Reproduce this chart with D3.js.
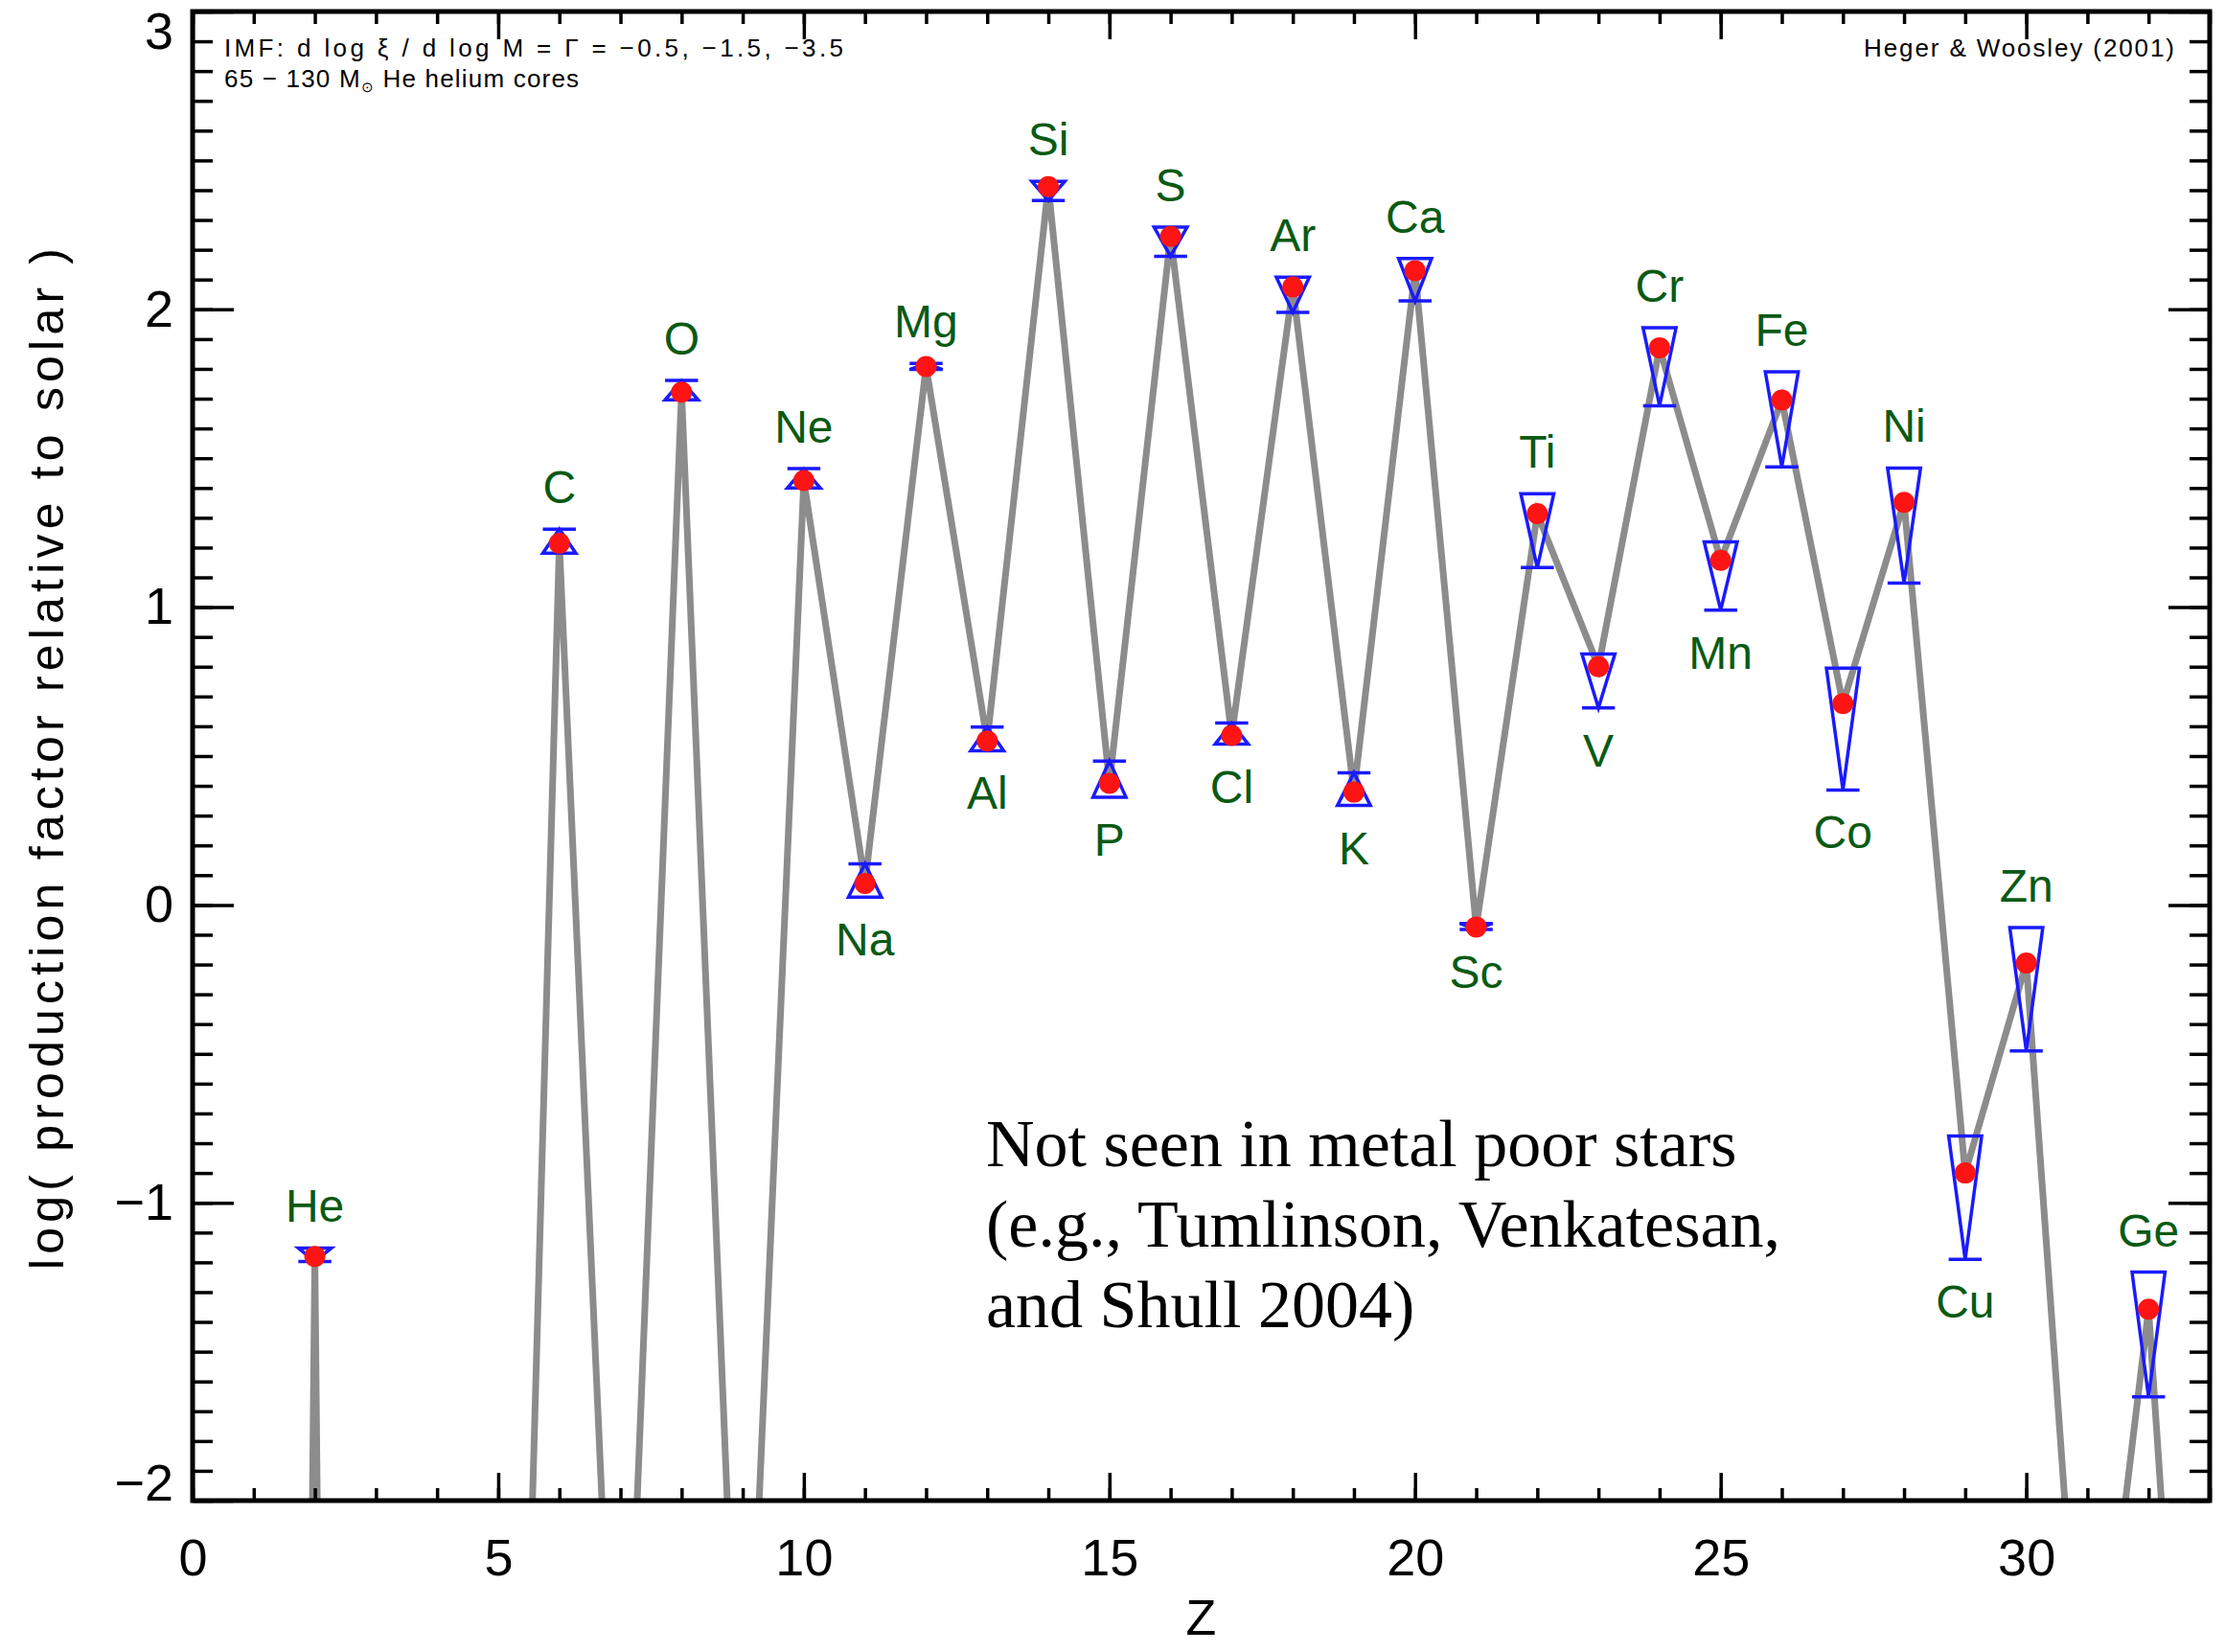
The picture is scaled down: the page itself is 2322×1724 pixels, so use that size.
<!DOCTYPE html>
<html>
<head>
<meta charset="utf-8">
<script src="https://cdn.jsdelivr.net/npm/d3@7"></script>
<style>
  body { margin: 0; background: #fff; }
</style>
</head>
<body>
<div id="chart"></div>
<script>
// elements with yields (Heger & Woosley 2001, 65-130 Msun He cores)
var elements = ["He","C","O","Ne","Na","Mg","Al","Si","P","S","Cl","Ar","K","Ca","Sc","Ti","V","Cr","Mn","Fe","Co","Ni","Cu","Zn","Ge"];
var elemZ    = [2, 6, 8, 10, 11, 12, 13, 14, 15, 16, 17, 18, 19, 20, 21, 22, 23, 24, 25, 26, 27, 28, 29, 30, 32];
var elemVal  = [-1.18, 1.214, 1.722, 1.425, 0.072, 1.808, 0.551, 2.412, 0.408, 2.245, 0.569, 2.075, 0.379, 2.13, -0.074, 1.314, 0.80, 1.871, 1.157, 1.695, 0.676, 1.352, -0.90, -0.195, -1.357];
var errHi    = [-1.152, 1.262, 1.761, 1.465, 0.138, 1.818, 0.597, 2.43, 0.483, 2.276, 0.611, 2.108, 0.444, 2.171, -0.062, 1.381, 0.843, 1.938, 1.219, 1.79, 0.795, 1.467, -0.776, -0.076, -1.233];
var errLo    = [-1.197, 1.181, 1.696, 1.40, 0.026, 1.798, 0.518, 2.365, 0.362, 2.178, 0.54, 1.99, 0.334, 2.028, -0.082, 1.133, 0.662, 1.676, 0.99, 1.471, 0.386, 1.081, -1.19, -0.49, -1.652];
// "v" = wide end on top, "^" = wide end at bottom
var errShape = ["v","^","^","^","^","^","^","v","^","v","^","v","^","v","v","v","v","v","v","v","v","v","v","v","v"];
// label above ("a") or below ("b") the marker
var labelSide = ["a","a","a","a","b","a","b","a","b","a","b","a","b","a","b","a","b","a","b","a","b","a","b","a","a"];

// Z with no data shown, far below the plot
var gapZ   = [1, 3, 4, 5, 7, 9, 31, 33];
var gapVal = [-22, -22, -20, -6.1, -3.4, -3.26, -3.06, -4.42];

var xTickVals = [0, 5, 10, 15, 20, 25, 30];
var xTickLabels = ["0", "5", "10", "15", "20", "25", "30"];
var yTickVals = [-2, -1, 0, 1, 2, 3];
var yTickLabels = ["\u22122", "\u22121", "0", "1", "2", "3"];

var w = 2322, h = 1724;
var pLeft = 201, pRight = 2306, pTop = 12, pBottom = 1566;

var svg = d3.select("#chart").append("svg")
    .attr("width", w)
    .attr("height", h)
    .style("background", "#fff");

var xScale = d3.scaleLinear().domain([0, 33]).range([pLeft, pRight]);
var yScale = d3.scaleLinear().domain([-2, 3]).range([pBottom, pTop]);

svg.append("defs").append("clipPath").attr("id", "plotClip")
    .append("rect")
    .attr("x", pLeft).attr("y", pTop)
    .attr("width", pRight - pLeft).attr("height", pBottom - pTop);

// gray line through every Z
var lineData = elemZ.map(function (z, i) { return [z, elemVal[i]]; })
    .concat(gapZ.map(function (z, i) { return [z, gapVal[i]]; }))
    .sort(function (a, b) { return a[0] - b[0]; });

var line = d3.line()
    .x(function (d) { return xScale(d[0]); })
    .y(function (d) { return yScale(d[1]); });

svg.append("path")
    .datum(lineData)
    .attr("clip-path", "url(#plotClip)")
    .attr("d", line)
    .attr("fill", "none")
    .attr("stroke", "#8c8c8c")
    .attr("stroke-width", 7)
    .attr("stroke-linejoin", "miter");

// blue range markers
var hw = 0.27;
svg.append("g").selectAll("path")
    .data(elemZ)
    .enter()
    .append("path")
    .attr("d", function (z, i) {
        var xl = xScale(z - hw), xr = xScale(z + hw), xc = xScale(z);
        var yh = yScale(errHi[i]), yl = yScale(errLo[i]);
        if (errShape[i] == "v") {
            return "M" + xl + "," + yh + "L" + xr + "," + yh + "L" + xc + "," + yl + "Z" +
                "M" + xl + "," + yl + "L" + xr + "," + yl;
        }
        return "M" + xl + "," + yl + "L" + xr + "," + yl + "L" + xc + "," + yh + "Z" +
            "M" + xl + "," + yh + "L" + xr + "," + yh;
    })
    .attr("fill", "none")
    .attr("stroke", "#1a1aff")
    .attr("stroke-width", 3.5);

// red dots
svg.append("g").selectAll("circle")
    .data(elemZ)
    .enter()
    .append("circle")
    .attr("cx", function (z) { return xScale(z); })
    .attr("cy", function (z, i) { return yScale(elemVal[i]); })
    .attr("r", 11)
    .attr("fill", "#ff1414");

// element names
svg.append("g").selectAll("text")
    .data(elements)
    .enter()
    .append("text")
    .text(function (d) { return d; })
    .attr("text-anchor", "middle")
    .attr("x", function (d, i) { return xScale(elemZ[i]); })
    .attr("y", function (d, i) {
        return labelSide[i] == "a" ? yScale(errHi[i]) - 27 : yScale(errLo[i]) + 61;
    })
    .attr("font-family", "Liberation Sans, Arial, sans-serif")
    .attr("font-size", "48px")
    .attr("fill", "#0a5a14");

// axes
function styleAxis(g, fs) {
    g.select(".domain").remove();
    g.selectAll(".tick line").attr("stroke", "#000").attr("stroke-width", 3.5);
    g.selectAll(".tick text")
        .attr("font-family", "Liberation Sans, Arial, sans-serif")
        .attr("font-size", fs + "px")
        .attr("fill", "#000");
}

var xMinor = d3.range(0, 34, 1);
var yMinor = d3.range(-20, 31).map(function (d) { return d / 10; });

svg.append("g").attr("transform", "translate(0," + pBottom + ")")
    .call(d3.axisBottom(xScale).tickValues(xMinor).tickSize(-13).tickFormat(""))
    .call(styleAxis, 54);
svg.append("g").attr("transform", "translate(0," + pBottom + ")")
    .call(d3.axisBottom(xScale).tickValues(xTickVals).tickSize(-29).tickPadding(40)
        .tickFormat(function (d, i) { return xTickLabels[i]; }))
    .call(styleAxis, 54);

svg.append("g").attr("transform", "translate(0," + pTop + ")")
    .call(d3.axisTop(xScale).tickValues(xMinor).tickSize(-13).tickFormat(""))
    .call(styleAxis, 54);
svg.append("g").attr("transform", "translate(0," + pTop + ")")
    .call(d3.axisTop(xScale).tickValues(xTickVals).tickSize(-29).tickFormat(""))
    .call(styleAxis, 54);

svg.append("g").attr("transform", "translate(" + pLeft + ",0)")
    .call(d3.axisLeft(yScale).tickValues(yMinor).tickSize(-21).tickFormat(""))
    .call(styleAxis, 54);
var yAxisG = svg.append("g").attr("transform", "translate(" + pLeft + ",0)")
    .call(d3.axisLeft(yScale).tickValues(yTickVals).tickSize(-43).tickPadding(20)
        .tickFormat(function (d, i) { return yTickLabels[i]; }))
    .call(styleAxis, 54);
// end labels sit inside the frame edges
yAxisG.selectAll(".tick text").attr("y", function (d) {
    if (d == 3) return 21;
    if (d == -2) return -18;
    return 0;
});

svg.append("g").attr("transform", "translate(" + pRight + ",0)")
    .call(d3.axisRight(yScale).tickValues(yMinor).tickSize(-21).tickFormat(""))
    .call(styleAxis, 54);
svg.append("g").attr("transform", "translate(" + pRight + ",0)")
    .call(d3.axisRight(yScale).tickValues(yTickVals).tickSize(-43).tickFormat(""))
    .call(styleAxis, 54);

// frame
svg.append("rect")
    .attr("x", pLeft).attr("y", pTop)
    .attr("width", pRight - pLeft).attr("height", pBottom - pTop)
    .attr("fill", "none")
    .attr("stroke", "#000")
    .attr("stroke-width", 5);

// axis titles
svg.append("text")
    .text("Z")
    .attr("text-anchor", "middle")
    .attr("x", (pLeft + pRight) / 2)
    .attr("y", 1706)
    .attr("font-family", "Liberation Sans, Arial, sans-serif")
    .attr("font-size", "52px")
    .attr("fill", "#000");

svg.append("text")
    .text("log( production  factor  relative  to  solar )")
    .attr("text-anchor", "middle")
    .attr("transform", "translate(66,792) rotate(-90)")
    .attr("textLength", 1066)
    .attr("lengthAdjust", "spacing")
    .attr("font-family", "Liberation Sans, Arial, sans-serif")
    .attr("font-size", "50px")
    .attr("fill", "#000");

// small annotations
svg.append("text")
    .text("IMF: d log \u03be / d log M = \u0393 = \u22120.5, \u22121.5, \u22123.5")
    .attr("x", 234).attr("y", 59)
    .attr("textLength", 646)
    .attr("lengthAdjust", "spacing")
    .attr("font-family", "Liberation Sans, Arial, sans-serif")
    .attr("font-size", "26px")
    .attr("fill", "#000");

var t2 = svg.append("text")
    .attr("x", 234).attr("y", 91)
    .attr("font-family", "Liberation Sans, Arial, sans-serif")
    .attr("font-size", "26px")
    .attr("letter-spacing", "1.2px")
    .attr("fill", "#000");
t2.append("tspan").text("65 \u2212 130 M");
t2.append("tspan").text("\u2299").attr("font-size", "15px").attr("dy", 5);
t2.append("tspan").text(" He helium cores").attr("dy", -5);

svg.append("text")
    .text("Heger & Woosley (2001)")
    .attr("text-anchor", "end")
    .attr("x", 2269).attr("y", 59)
    .attr("textLength", 324)
    .attr("lengthAdjust", "spacing")
    .attr("font-family", "Liberation Sans, Arial, sans-serif")
    .attr("font-size", "26px")
    .attr("fill", "#000");

// note about metal poor stars
var note = ["Not seen in metal poor stars", "(e.g., Tumlinson, Venkatesan,", "and Shull 2004)"];
svg.append("g").selectAll("text")
    .data(note)
    .enter()
    .append("text")
    .text(function (d) { return d; })
    .attr("x", 1029)
    .attr("y", function (d, i) { return 1217 + i * 84; })
    .attr("font-family", "Liberation Serif, Times New Roman, serif")
    .attr("font-size", "70px")
    .attr("fill", "#000");
</script>
</body>
</html>
